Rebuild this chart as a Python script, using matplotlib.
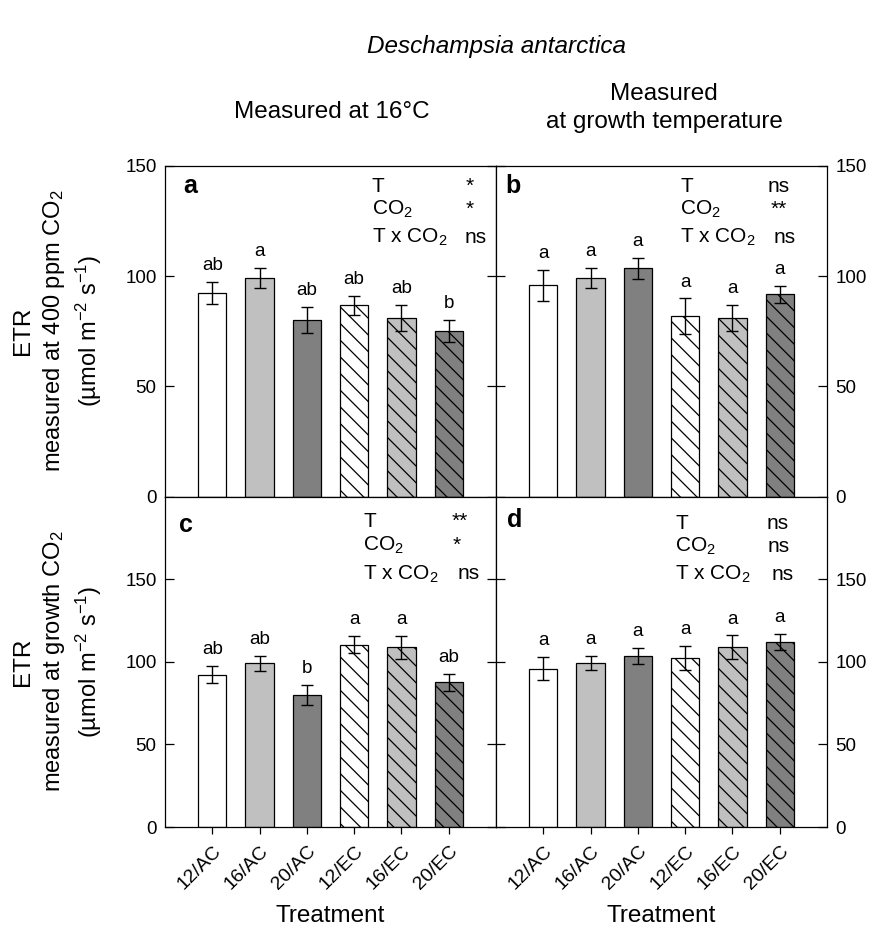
import matplotlib
matplotlib.use("Agg")
import matplotlib.pyplot as plt
import numpy as np

plt.rcParams['font.family'] = ['Liberation Sans', 'DejaVu Sans']
plt.rcParams['mathtext.fontset'] = 'custom'
plt.rcParams['mathtext.rm'] = 'Liberation Sans'
plt.rcParams['mathtext.it'] = 'Liberation Sans:italic'
plt.rcParams['hatch.linewidth'] = 0.9

# datos
tratamientos = ['12/AC', '16/AC', '20/AC', '12/EC', '16/EC', '20/EC']

etr_a = [92.3, 99.2, 80.0, 86.7, 81.0, 75.1]
err_a = [5.0, 4.5, 6.0, 4.5, 6.0, 5.0]
letras_a = ['ab', 'a', 'ab', 'ab', 'ab', 'b']
stats_a = ['*', '*', 'ns']

etr_b = [95.9, 99.2, 103.5, 81.9, 81.1, 91.7]
err_b = [7.0, 4.4, 4.8, 8.0, 5.9, 3.9]
letras_b = ['a', 'a', 'a', 'a', 'a', 'a']
stats_b = ['ns', '**', 'ns']

etr_c = [92.3, 99.2, 80.0, 110.4, 108.8, 87.6]
err_c = [5.0, 4.5, 6.0, 5.3, 7.0, 5.0]
letras_c = ['ab', 'ab', 'b', 'a', 'a', 'ab']
stats_c = ['**', '*', 'ns']

etr_d = [95.9, 99.2, 103.5, 102.2, 108.8, 112.0]
err_d = [7.0, 4.4, 4.8, 7.2, 7.2, 4.7]
letras_d = ['a', 'a', 'a', 'a', 'a', 'a']
stats_d = ['ns', 'ns', 'ns']

factores = ['T', 'CO$_2$', 'T x CO$_2$']

# estilo de las barras
rellenos = ['white', '#c0c0c0', '#808080', 'white', '#c0c0c0', '#808080']
tramas = ['', '', '', '\\\\', '\\\\', '\\\\']

fig, axes = plt.subplots(2, 2, figsize=(8.72, 9.41), dpi=100)
fig.subplots_adjust(left=0.1892, right=0.9484, top=0.8236, bottom=0.1211,
                    wspace=0, hspace=0)

paneles = [
    # ax, valores, errores, letras, stats, letra panel, pos letra, x factores, x stats, y filas
    (axes[0, 0], etr_a, err_a, letras_a, stats_a, 'a', (0.076, 0.918), 0.624,
     [0.921, 0.921, 0.937], [0.922, 0.852, 0.767]),
    (axes[0, 1], etr_b, err_b, letras_b, stats_b, 'b', (0.05, 0.918), 0.556,
     [0.855, 0.855, 0.872], [0.922, 0.852, 0.767]),
    (axes[1, 0], etr_c, err_c, letras_c, stats_c, 'c', (0.064, 0.892), 0.599,
     [0.891, 0.881, 0.916], [0.907, 0.837, 0.749]),
    (axes[1, 1], etr_d, err_d, letras_d, stats_d, 'd', (0.057, 0.907), 0.541,
     [0.85, 0.853, 0.866], [0.902, 0.832, 0.747]),
]

x = np.arange(1, len(tratamientos) + 1)

for i, (ax, vals, errs, letras, stats, let, pos, xf, xs, ys) in enumerate(paneles):
    fila, col = divmod(i, 2)
    for xi, v, c, h in zip(x, vals, rellenos, tramas):
        ax.bar(xi, v, width=0.6, color=c, edgecolor='black', linewidth=0.9,
               hatch=h, zorder=2)
    ax.errorbar(x, vals, yerr=errs, fmt='none', ecolor='black', elinewidth=1,
                capsize=4.5, capthick=1, zorder=3)
    for xi, v, e, l in zip(x, vals, errs, letras):
        ax.annotate(l, (xi, v + e), xytext=(0, 8.5), textcoords='offset points',
                    ha='center', va='baseline', fontsize=13.5)

    ax.set_xlim(0, 7)
    if fila == 0:
        ax.set_ylim(0, 150)
    else:
        ax.set_ylim(0, 200)
    ax.set_yticks([0, 50, 100, 150])
    ax.set_xticks(x)

    ax.tick_params(axis='y', direction='in', length=6.5, width=0.9,
                   left=True, right=True, labelsize=13.5,
                   labelleft=(col == 0), labelright=(col == 1), pad=6)
    ax.tick_params(axis='x', direction='out', length=5, width=0.9,
                   bottom=True, top=False)
    if fila == 1:
        ax.set_xticklabels(tratamientos, rotation=45, ha='right',
                           rotation_mode='anchor', fontsize=14)
        ax.tick_params(axis='x', pad=6)
        ax.set_xlabel('Treatment', fontsize=17.5, labelpad=9)
    else:
        ax.set_xticklabels([])
    for s in ax.spines.values():
        s.set_linewidth(0.9)

    ax.text(pos[0], pos[1], let, transform=ax.transAxes, fontsize=18,
            fontweight='bold', ha='center', va='baseline')
    for f, s, xv, yv in zip(factores, stats, xs, ys):
        ax.text(xf, yv, f, transform=ax.transAxes, fontsize=15,
                ha='left', va='baseline')
        ax.text(xv, yv, s, transform=ax.transAxes, fontsize=15,
                ha='center', va='baseline')

# etiquetas del eje y (tres lineas)
for fila, segunda in [(0, 'measured at 400 ppm CO$_2$'), (1, 'measured at growth CO$_2$')]:
    bb = axes[fila, 0].get_position()
    yc = (bb.y0 + bb.y1) / 2
    fig.text(23 / 872, yc, 'ETR', rotation=90, ha='center', va='center', fontsize=17.5)
    fig.text(54 / 872, yc, segunda, rotation=90, ha='center', va='center', fontsize=17)
    fig.text(89 / 872, yc, '(µmol m$^{-2}$ s$^{-1}$)', rotation=90,
             ha='center', va='center', fontsize=17)

# titulos
fig.text(496 / 872, 1 - 46 / 941, 'Deschampsia antarctica', style='italic',
         ha='center', va='center', fontsize=17.5)
fig.text(332 / 872, 1 - 112 / 941, 'Measured at 16°C', ha='center', va='center',
         fontsize=17.5)
fig.text(664 / 872, 1 - 108 / 941, 'Measured\nat growth temperature', ha='center',
         va='center', fontsize=17.5, linespacing=1.3)

fig.savefig('out.png', dpi=100)
